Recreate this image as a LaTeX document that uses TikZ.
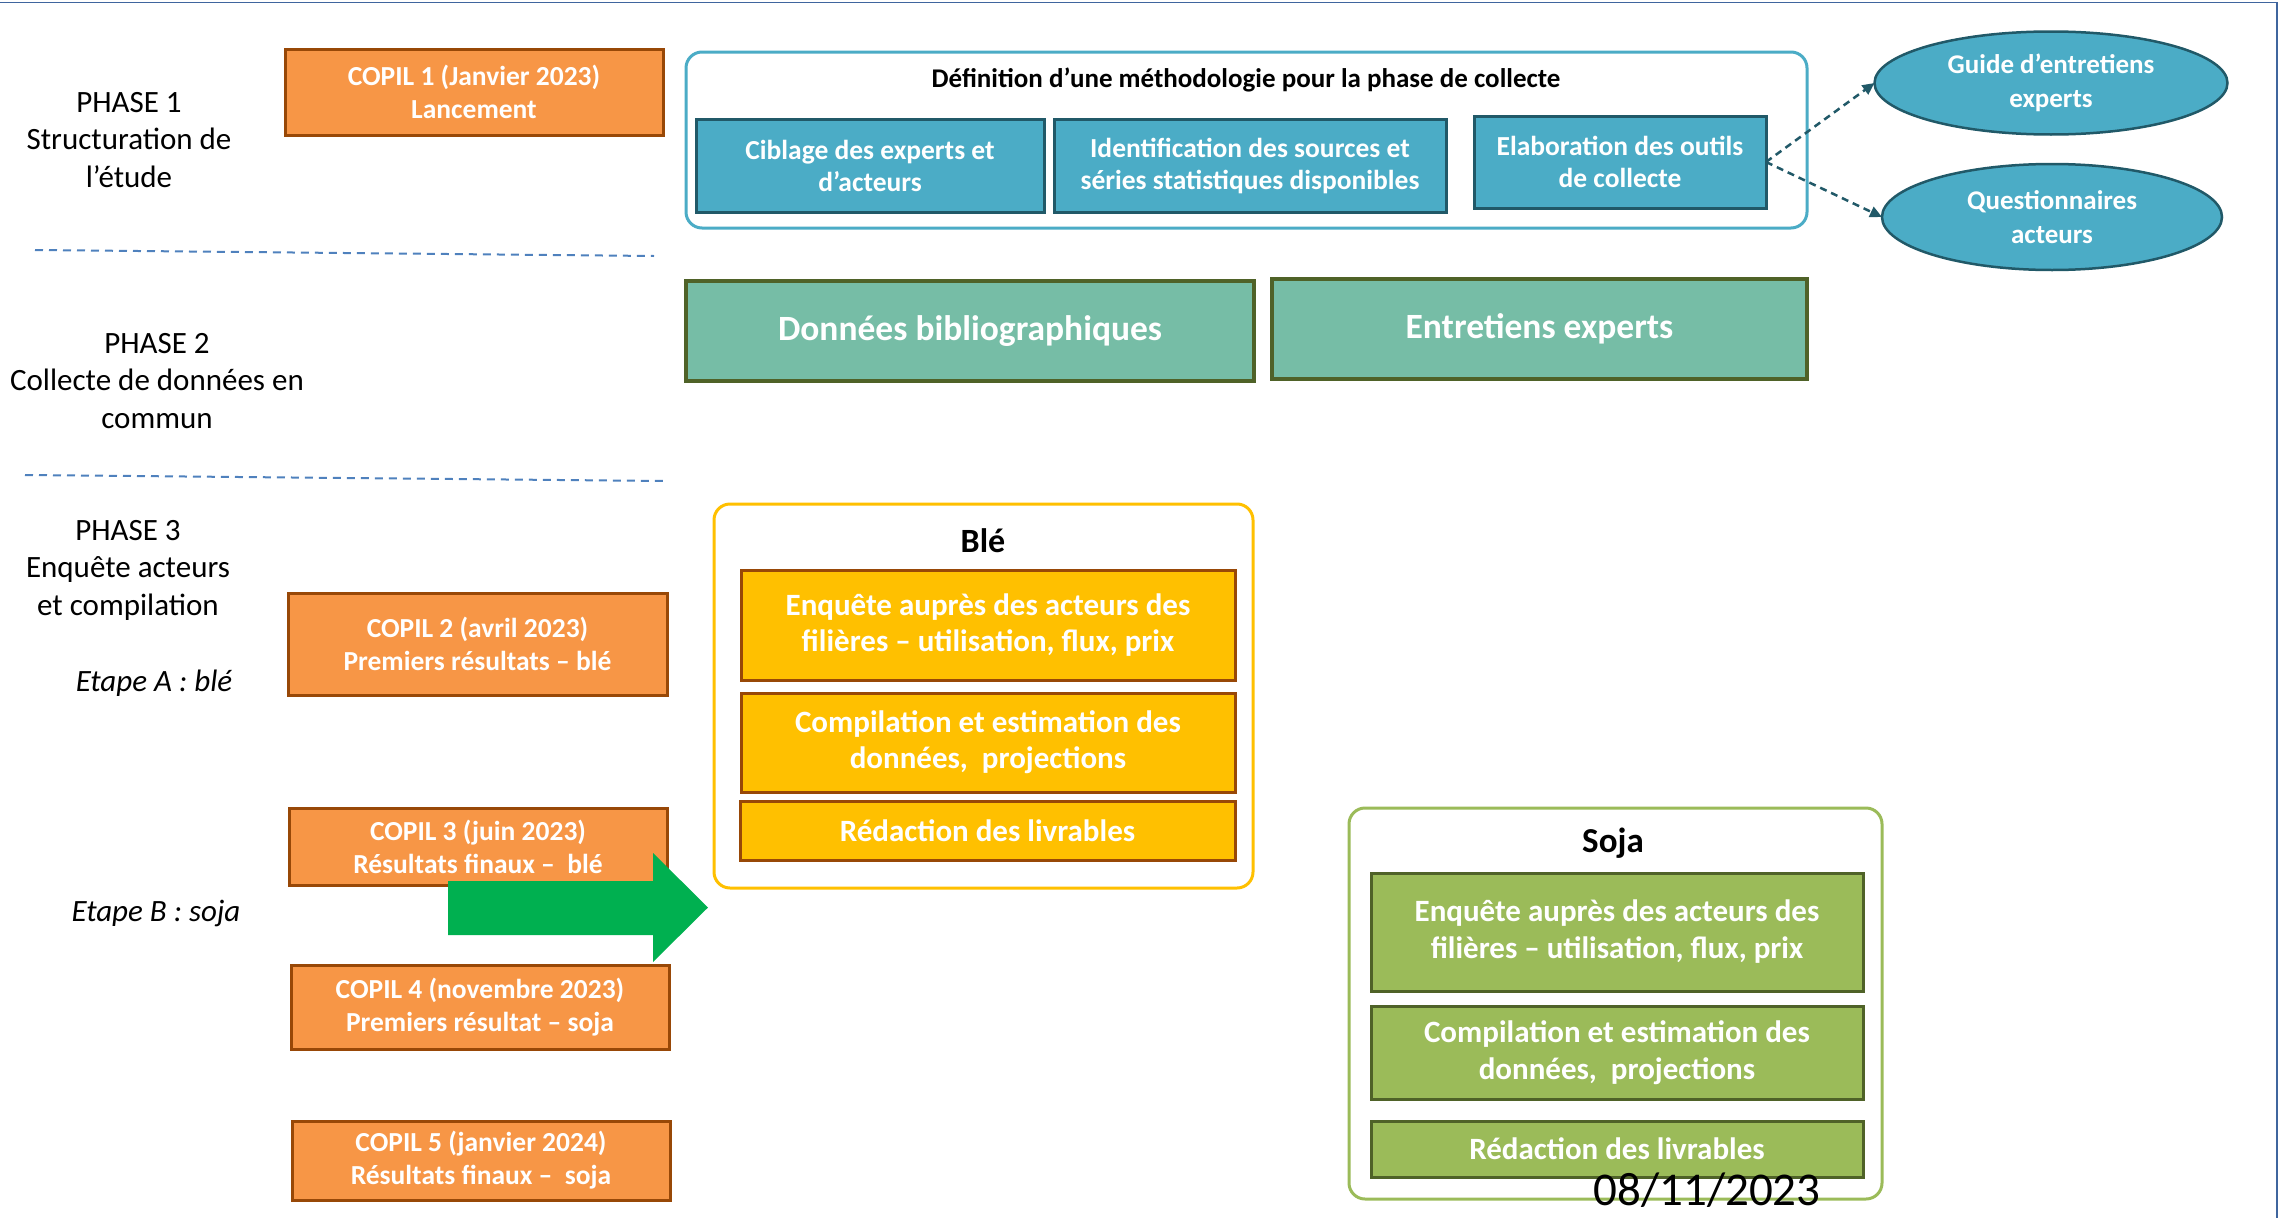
\documentclass[tikz,border=0pt]{standalone}
\usepackage{fontspec}
\setmainfont{Carlito}
\usetikzlibrary{shapes.geometric,arrows.meta}
\definecolor{cOrange}{HTML}{F79646}
\definecolor{cOrangeD}{HTML}{984807}
\definecolor{cBlue}{HTML}{4BACC6}
\definecolor{cBlueD}{HTML}{215968}
\definecolor{cTeal}{HTML}{76BDA6}
\definecolor{cOlive}{HTML}{4F6228}
\definecolor{cGold}{HTML}{FFC000}
\definecolor{cLeaf}{HTML}{9BBB59}
\definecolor{cArrow}{HTML}{00B050}
\definecolor{cSep}{HTML}{4F81BD}
\definecolor{cFrame}{HTML}{3F659E}
\tikzset{
  base/.style={inner sep=0pt, outer sep=0pt, align=center, text=white, font=\bfseries},
  copil/.style={base, draw=cOrangeD, fill=cOrange, line width=3pt, font=\bfseries\fontsize{27.5}{33}\selectfont},
  bluebox/.style={base, draw=cBlueD, fill=cBlue, line width=3pt, font=\bfseries\fontsize{27.5}{32}\selectfont},
  bluell/.style={base, ellipse, draw=cBlueD, fill=cBlue, line width=2.5pt, font=\bfseries\fontsize{27}{34}\selectfont},
  tealbox/.style={base, draw=cOlive, fill=cTeal, line width=3.5pt, font=\bfseries\fontsize{35.5}{40}\selectfont},
  goldbox/.style={base, draw=cOrangeD, fill=cGold, line width=3pt, font=\bfseries\fontsize{31}{36}\selectfont},
  leafbox/.style={base, draw=cOlive, fill=cLeaf, line width=3pt, font=\bfseries\fontsize{31}{37}\selectfont},
  group/.style={draw, fill=white, rounded corners=16pt, line width=3pt, inner sep=0pt, outer sep=0pt},
  phase/.style={align=center, text=black, font=\fontsize{31}{37.5}\selectfont},
  etape/.style={text=black, font=\itshape\fontsize{31}{34}\selectfont},
  sep/.style={draw=cSep, line width=2pt, dash pattern=on 8pt off 6pt},
  dashlink/.style={draw=cBlueD, line width=2.5pt, dash pattern=on 7pt off 5pt, -{Triangle[length=12pt,width=11pt]}},
}
\begin{document}
\begin{tikzpicture}[x=1pt,y=-1pt]
\useasboundingbox (0,0) rectangle (2279,1218);
% frame
\draw[cFrame, line width=1.6pt] (0,2.5) -- (2277,2.5) -- (2277,1218);

% phase labels
\node[phase] (p1) at (129,140) {PHASE 1\\Structuration de\\l’étude};
\node[phase] (p2) at (157,381) {PHASE 2\\Collecte de données en\\commun};
\node[phase] (p3) at (128,570) {PHASE 3\\Enquête acteurs\\et compilation};
\node[etape] (ea) at (154,683) {Etape A : blé};
\node[etape] (eb) at (156,913) {Etape B : soja};

% separators
\coordinate (s1a) at (35,250); \coordinate (s1b) at (654,256);
\coordinate (s2a) at (25,475); \coordinate (s2b) at (667,481);
\draw[sep] (s1a) -- (s1b);
\draw[sep] (s2a) -- (s2b);

% COPIL boxes
\node[copil, minimum width=378pt, minimum height=86pt] (c1) at (474,92) {COPIL 1 (Janvier 2023)\\Lancement};
\node[copil, minimum width=379pt, minimum height=102pt] (c2) at (477.5,644) {COPIL 2 (avril 2023)\\Premiers résultats – blé};
\node[copil, minimum width=378pt, minimum height=77pt] (c3) at (478,846.5) {COPIL 3 (juin 2023)\\Résultats finaux –\ \ blé};
\node[copil, minimum width=378pt, minimum height=84pt] (c4) at (480,1007) {COPIL 4 (novembre 2023)\\Premiers résultat – soja};
\node[copil, minimum width=378pt, minimum height=79pt] (c5) at (481,1160.5) {COPIL 5 (janvier 2024)\\Résultats finaux –\ \ soja};

% green arrow
\fill[cArrow] (448,881) -- (653,881) -- (653,853) -- (708,907.5) -- (653,962) -- (653,935) -- (448,935) -- cycle;

% Phase 1 group
\draw[group, draw=cBlue] (686,52) rectangle (1807,228);
\node[font=\bfseries\fontsize{27}{30}\selectfont, text=black] (deft) at (1246,80) {Définition d’une méthodologie pour la phase de collecte};
\node[bluebox, minimum width=348pt, minimum height=93pt] (cib) at (870,165.5) {Ciblage des experts et\\d’acteurs};
\node[bluebox, minimum width=392pt, minimum height=93pt] (ide) at (1250,165.5) {Identification des sources et\\séries statistiques disponibles};
\node[bluebox, minimum width=292pt, minimum height=92pt] (ela) at (1620,162) {Elaboration des outils\\de collecte};
\node[bluell, minimum width=353pt, minimum height=103pt] (gui) at (2051,83) {Guide d’entretiens\\experts};
\node[bluell, minimum width=340pt, minimum height=106pt] (que) at (2052,217) {Questionnaires\\acteurs};
\draw[dashlink] (ela.east) -- (gui.west);
\draw[dashlink] (ela.east) -- (que.west);

% Phase 2
\node[tealbox, minimum width=568pt, minimum height=100pt] (don) at (970,331) {Données bibliographiques};
\node[tealbox, minimum width=535pt, minimum height=100pt] (ent) at (1539.5,329) {Entretiens experts};

% Blé group
\draw[group, draw=cGold] (714,504) rectangle (1253,888);
\node[font=\bfseries\fontsize{34}{36}\selectfont, text=black] (blet) at (983,541) {Blé};
\node[goldbox, minimum width=494pt, minimum height=110pt] (b1) at (988,625) {Enquête auprès des acteurs des\\filières – utilisation, flux, prix};
\node[goldbox, minimum width=494pt, minimum height=99pt] (b2) at (988,742.5) {Compilation et estimation des\\données,\ \ projections};
\node[goldbox, minimum width=495pt, minimum height=59pt] (b3) at (987.5,830.5) {Rédaction des livrables};

% Soja group
\draw[group, draw=cLeaf] (1349,808) rectangle (1882,1199);
\node[font=\bfseries\fontsize{35}{38}\selectfont, text=black] (sojt) at (1613,843) {Soja};
\node[leafbox, minimum width=492pt, minimum height=118pt] (s1) at (1617,932) {Enquête auprès des acteurs des\\filières – utilisation, flux, prix};
\node[leafbox, minimum width=492pt, minimum height=93pt] (s2) at (1617,1052.5) {Compilation et estimation des\\données,\ \ projections};
\node[leafbox, minimum width=492pt, minimum height=56pt] (s3) at (1617,1149) {Rédaction des livrables};

% date
\node[text=black, font=\fontsize{47}{50}\selectfont] (date) at (1707,1190) {08/11/2023};
\end{tikzpicture}
\end{document}
